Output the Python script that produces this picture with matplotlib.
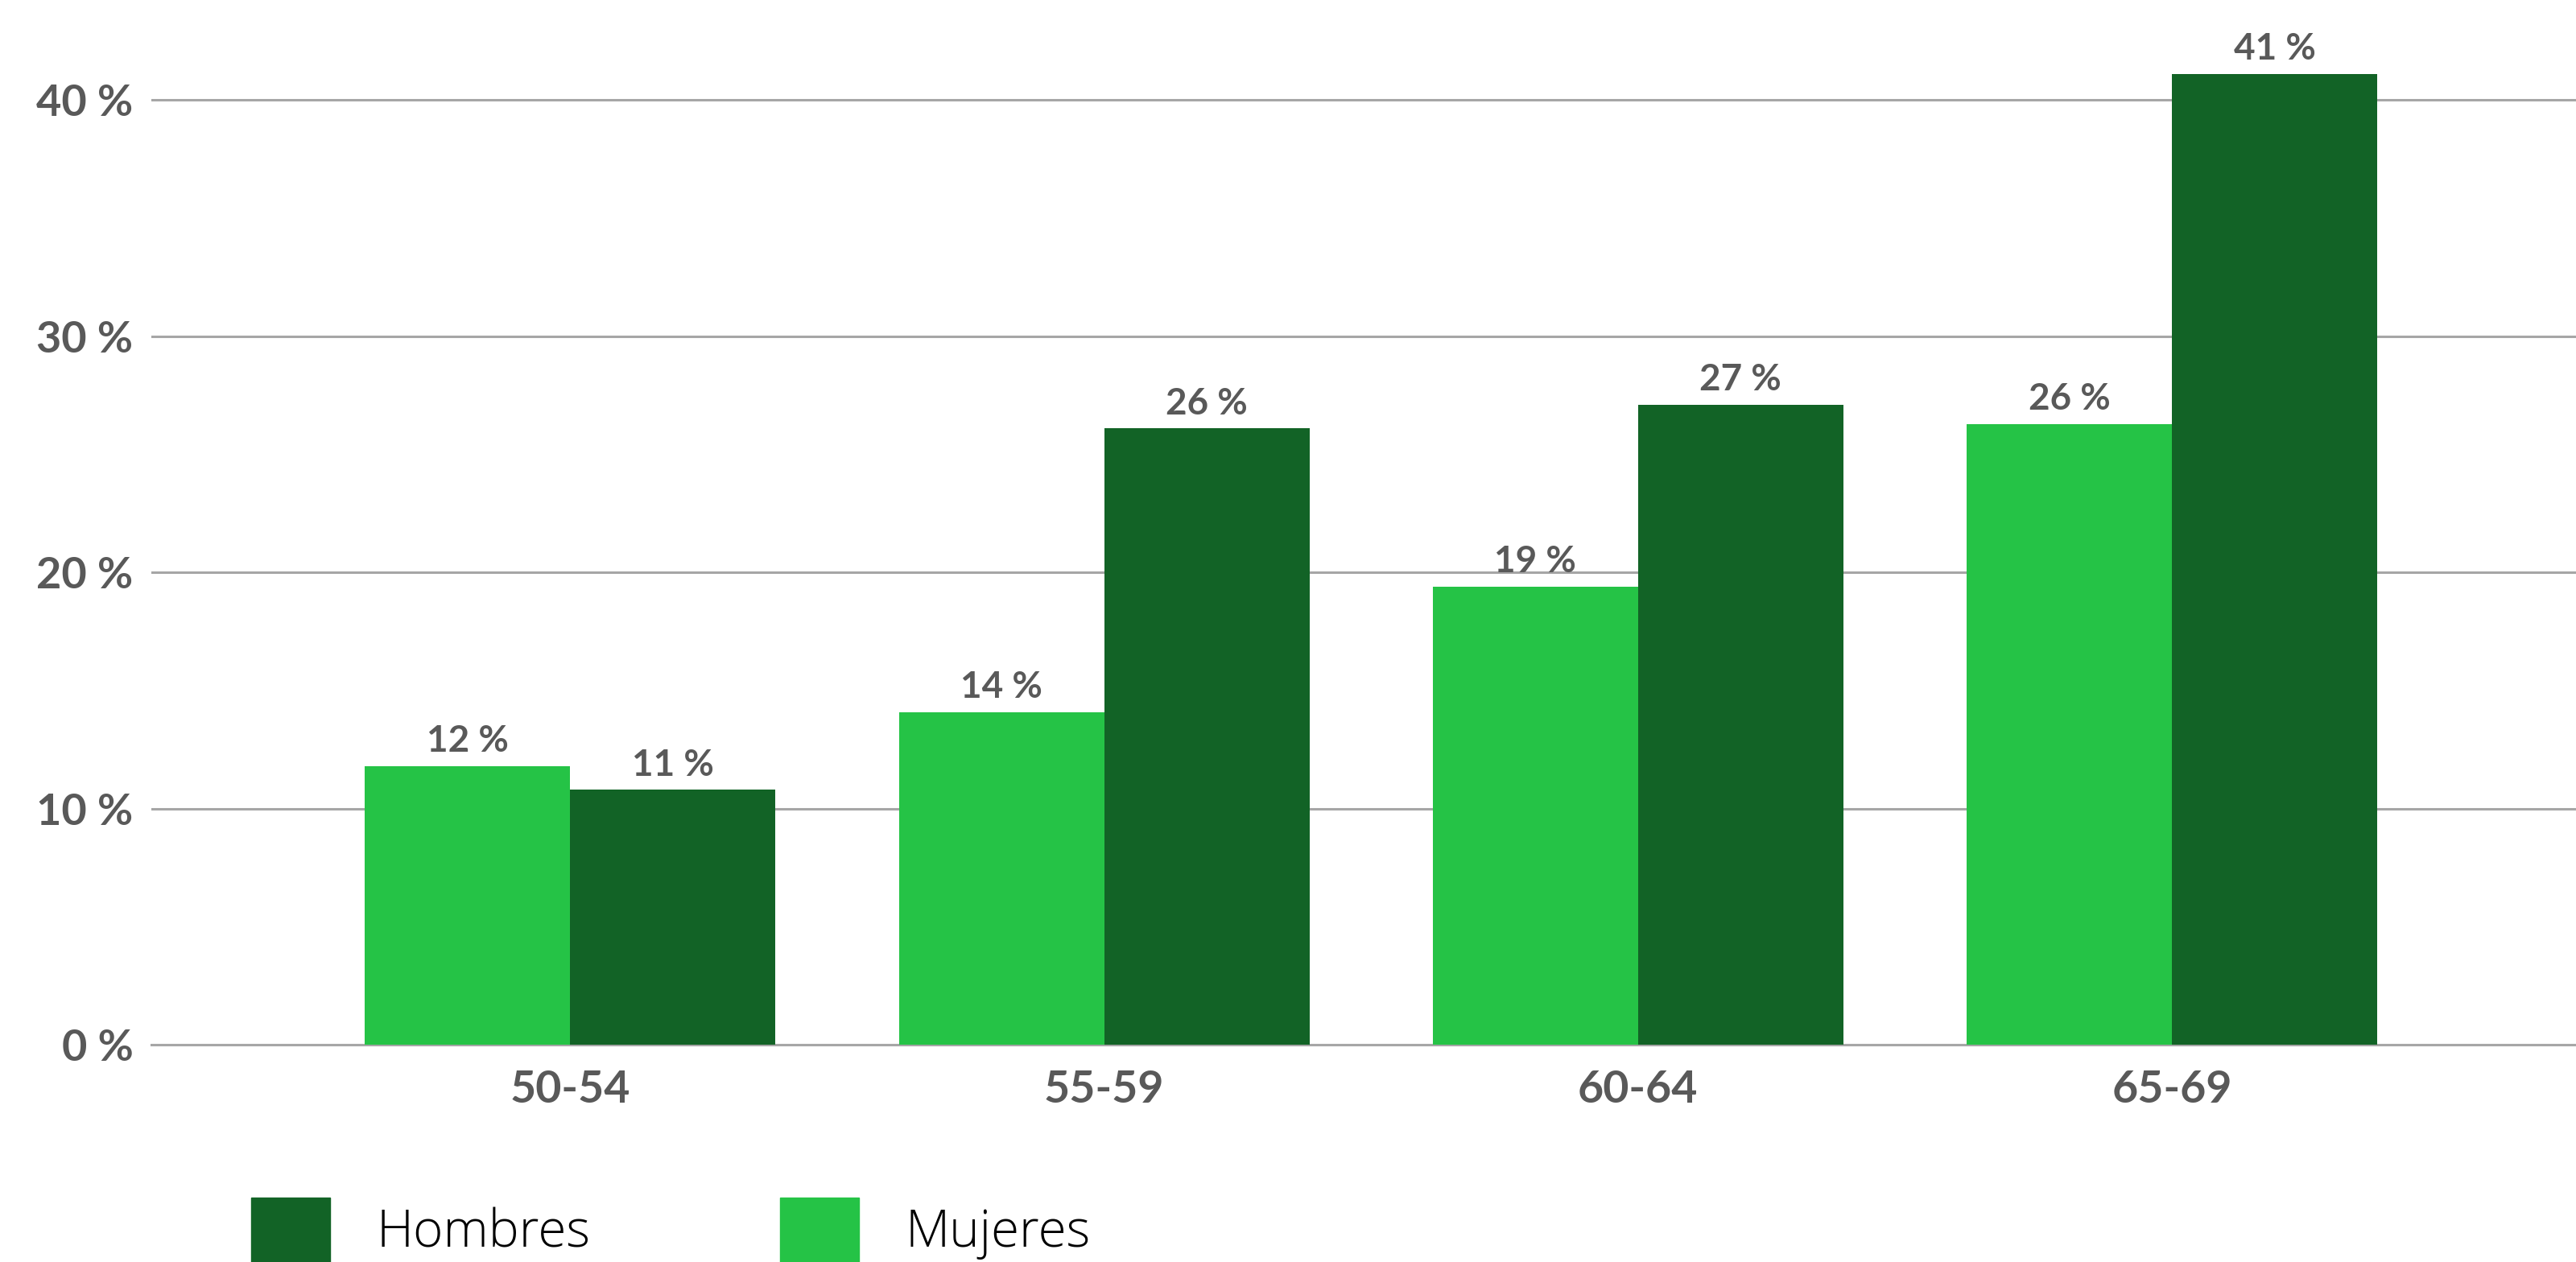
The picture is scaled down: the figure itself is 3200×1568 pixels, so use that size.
import matplotlib
matplotlib.use("Agg")
import matplotlib.pyplot as plt
import numpy as np
from matplotlib.patches import Patch

categories = ["50-54", "55-59", "60-64", "65-69"]
mujeres = [11.8, 14.1, 19.4, 26.3]
hombres = [10.8, 26.1, 27.1, 41.1]
mujeres_labels = ["12 %", "14 %", "19 %", "26 %"]
hombres_labels = ["11 %", "26 %", "27 %", "41 %"]
yticks = [0, 10, 20, 30, 40]
ytick_labels = ["0 %", "10 %", "20 %", "30 %", "40 %"]

c_hombres = "#126326"
c_mujeres = "#25C346"
txt_gray = "#595959"

fig = plt.figure(figsize=(32, 15.68), dpi=100)
ax = fig.add_axes([0.0587, 0.1719, 0.9413, 0.8281])

x = np.arange(len(categories))
w = 0.3846
b1 = ax.bar(x - w / 2, mujeres, width=w, color=c_mujeres, zorder=3)
b2 = ax.bar(x + w / 2, hombres, width=w, color=c_hombres, zorder=3)

for bars, labels in ((b1, mujeres_labels), (b2, hombres_labels)):
    for r, lab in zip(bars, labels):
        ax.annotate(lab, (r.get_x() + r.get_width() / 2, r.get_height()),
                    xytext=(0, 7), textcoords="offset points",
                    ha="center", va="bottom", fontsize=33, fontweight="bold",
                    color=txt_gray, family="Lato")

ax.set_xlim(-0.785, 3.757)
ax.set_ylim(0, 44.24)
ax.set_yticks(yticks)
ax.set_yticklabels(ytick_labels)
ax.set_xticks(x)
ax.set_xticklabels(categories)
for lab in ax.get_yticklabels():
    lab.set_fontsize(39)
for lab in ax.get_xticklabels():
    lab.set_fontsize(40)
for lab in ax.get_yticklabels() + ax.get_xticklabels():
    lab.set_family("Lato")
    lab.set_fontweight("bold")
    lab.set_color(txt_gray)
ax.tick_params(axis="both", length=0)
ax.tick_params(axis="y", pad=16)
ax.tick_params(axis="x", pad=22)
ax.yaxis.grid(True, color="#a6a6a6", linewidth=2.2, zorder=0)
for s in ("top", "right", "left"):
    ax.spines[s].set_visible(False)
ax.spines["bottom"].set_color("#a6a6a6")
ax.spines["bottom"].set_linewidth(2.2)

handles = [Patch(color=c_hombres), Patch(color=c_mujeres)]
fs = 46
fs_px = fs * 100 / 72
leg = fig.legend(handles, ["Hombres", "Mujeres"], loc="upper left",
                 bbox_to_anchor=(153 / 1568, 1 - 729 / 768), ncol=2,
                 frameon=False, borderpad=0, borderaxespad=0,
                 handlelength=98 / fs_px, handleheight=98 / fs_px,
                 handletextpad=57 / fs_px, columnspacing=236 / fs_px,
                 prop={"family": "Open Sans", "weight": "light", "size": fs})
for t in leg.get_texts():
    t.set_color("black")

fig.savefig("out.png", dpi=100, facecolor="white")
